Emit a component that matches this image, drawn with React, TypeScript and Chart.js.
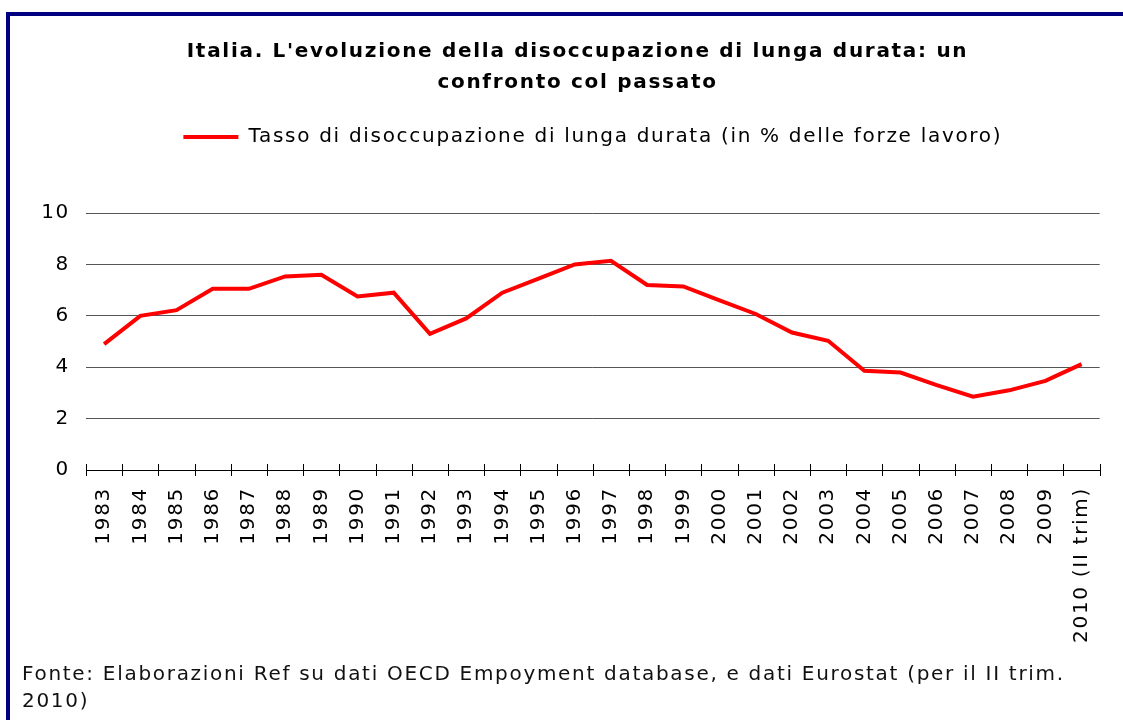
import React, { useEffect, useRef } from "react";
import { Chart, registerables } from "chart.js";

Chart.register(...registerables);

const years: string[] = [
  "1983", "1984", "1985", "1986", "1987", "1988", "1989", "1990", "1991", "1992",
  "1993", "1994", "1995", "1996", "1997", "1998", "1999", "2000", "2001", "2002",
  "2003", "2004", "2005", "2006", "2007", "2008", "2009", "2010 (II trim)",
];

const longTermRate: number[] = [
  4.9, 6.0, 6.22, 7.05, 7.05, 7.53, 7.6, 6.75, 6.9, 5.3,
  5.9, 6.9, 7.45, 8.0, 8.14, 7.2, 7.14, 6.6, 6.07, 5.35,
  5.03, 3.86, 3.79, 3.3, 2.85, 3.1, 3.47, 4.12,
];

const titleLines: string[] = [
  "Italia. L'evoluzione della disoccupazione di lunga durata: un",
  "confronto col passato",
];
const seriesLabel = "Tasso di disoccupazione di lunga durata (in % delle forze lavoro)";
const sourceLines: string[] = [
  "Fonte: Elaborazioni Ref su dati OECD Empoyment database, e dati Eurostat (per il II trim.",
  "2010)",
];

const yMin = 0;
const yMax = 10;
const yStep = 2;

const FONT = "'DejaVu Sans', Verdana, sans-serif";
const LETTER_SPACING = "1.7px";

const spacing = {
  id: "spacing",
  beforeUpdate(chart: any) {
    chart.ctx.letterSpacing = LETTER_SPACING;
  },
  beforeLayout(chart: any) {
    chart.ctx.letterSpacing = LETTER_SPACING;
  },
  afterLayout(chart: any) {
    const ys = chart.scales.y;
    if (ys) ys._computeLabelArea = () => undefined;
  },
  beforeDraw(chart: any) {
    chart.ctx.letterSpacing = LETTER_SPACING;
  },
};

const crossTicks = {
  id: "crossTicks",
  afterDraw(chart: any) {
    const xs = chart.scales.x;
    if (!xs) return;
    const ctx = chart.ctx;
    const n = chart.data.labels.length;
    const y = xs.top;
    ctx.save();
    ctx.strokeStyle = "#000";
    ctx.lineWidth = 1;
    ctx.beginPath();
    for (let i = 0; i <= n; i++) {
      let x: number;
      if (i === 0) x = xs.left;
      else if (i === n) x = xs.right;
      else x = (xs.getPixelForValue(i - 1) + xs.getPixelForValue(i)) / 2;
      x = Math.round(x) + 0.5;
      ctx.moveTo(x, y - 6);
      ctx.lineTo(x, y + 6);
    }
    ctx.stroke();
    ctx.restore();
  },
};

export default function App() {
  const canvasRef = useRef<HTMLCanvasElement | null>(null);

  useEffect(() => {
    if (!canvasRef.current) return;
    Chart.defaults.font.family = FONT;
    const chart = new Chart(canvasRef.current, {
      type: "line",
      data: {
        labels: years,
        datasets: [
          {
            label: seriesLabel,
            data: longTermRate,
            borderColor: "#ff0000",
            backgroundColor: "#ff0000",
            borderWidth: 4,
            pointRadius: 0,
            tension: 0,
            fill: false,
          },
        ],
      },
      options: {
        responsive: false,
        animation: false,
        layout: { padding: { left: 50, right: 18, top: 0, bottom: 75 } },
        plugins: {
          title: {
            display: true,
            text: titleLines,
            color: "#000",
            font: { size: 20, weight: "bold", lineHeight: 1.55, family: FONT },
            padding: { top: 36, bottom: 19 },
          },
          subtitle: {
            display: true,
            text: "",
            weight: 500,
            font: { size: 10, lineHeight: 1 },
            padding: { top: 46, bottom: 0 },
          } as any,
          legend: {
            display: true,
            position: "top",
            fullSize: false,
            labels: {
              usePointStyle: true,
              pointStyle: "line",
              pointStyleWidth: 55,
              color: "#000",
              font: { size: 20, family: FONT },
              padding: 10,
            },
          },
          tooltip: { enabled: false },
        },
        scales: {
          x: {
            type: "category",
            offset: true,
            afterFit: (scale: any) => {
              scale.height = 175;
            },
            grid: { display: false, drawTicks: false },
            border: { display: true, color: "#000", width: 1 },
            ticks: {
              autoSkip: false,
              maxRotation: 90,
              minRotation: 90,
              padding: 17,
              color: "#000",
              font: { size: 20, family: FONT },
            },
          },
          y: {
            min: yMin,
            max: yMax,
            afterFit: (scale: any) => {
              scale.width = 36;
            },
            border: { display: false },
            grid: { color: "#555", lineWidth: 1, drawTicks: false },
            ticks: {
              stepSize: yStep,
              padding: 16,
              color: "#000",
              font: { size: 20, family: FONT },
            },
          },
        },
      },
      plugins: [spacing, crossTicks],
    });
    return () => chart.destroy();
  }, []);

  return (
    <div
      style={{
        position: "absolute",
        left: 0,
        top: 0,
        width: 1123,
        height: 720,
        overflow: "hidden",
        background: "#fff",
      }}
    >
      <div
        style={{
          position: "absolute",
          left: 6,
          top: 12,
          width: 2000,
          height: 2000,
          borderTop: "4px solid #000080",
          borderLeft: "4px solid #000080",
        }}
      />
      <canvas
        ref={canvasRef}
        width={1123}
        height={720}
        style={{ position: "absolute", left: 0, top: 0 }}
      />
      <div
        style={{
          position: "absolute",
          left: 22,
          top: 660,
          fontFamily: FONT,
          fontSize: 20,
          lineHeight: "27px",
          letterSpacing: LETTER_SPACING,
          color: "#111",
          whiteSpace: "nowrap",
        }}
      >
        {sourceLines.map((l, i) => (
          <div key={i}>{l}</div>
        ))}
      </div>
    </div>
  );
}
